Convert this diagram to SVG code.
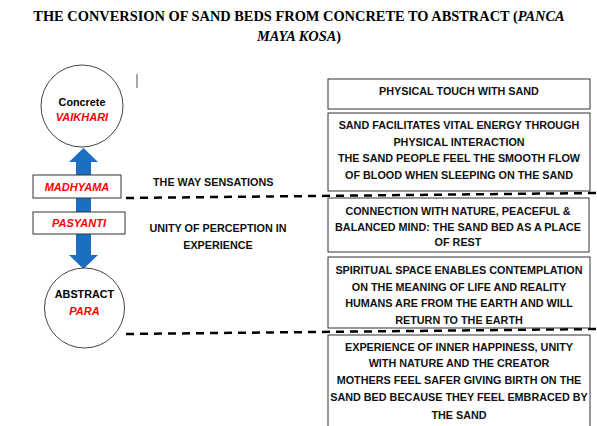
<svg xmlns="http://www.w3.org/2000/svg" width="597" height="426" viewBox="0 0 597 426">
<style>
.title{font-family:"Liberation Serif","Times New Roman",serif;font-weight:bold;font-size:14.4px;fill:#000}
.b{font-family:"Liberation Sans",Arial,sans-serif;font-weight:bold;font-size:10.8px;fill:#111}
.red{font-family:"Liberation Sans",Arial,sans-serif;font-weight:bold;font-style:italic;font-size:11px;fill:#ff0000}
.box{fill:#fff;stroke:#333;stroke-width:1}
.circ{fill:#fff;stroke:#444;stroke-width:1}
.dash{fill:none;stroke:#000;stroke-width:2.5;stroke-dasharray:8 6}
</style>
<rect width="597" height="426" fill="#fff"/>
<g id="title">
<text class="title" x="299" y="21" text-anchor="middle">THE CONVERSION OF SAND BEDS FROM CONCRETE TO ABSTRACT (<tspan font-style="italic">PANCA</tspan></text>
<text class="title" x="299" y="41" text-anchor="middle"><tspan font-style="italic">MAYA KOSA</tspan>)</text>
</g>
<line x1="137" y1="74" x2="137" y2="88" stroke="#555" stroke-width="1"/>
<g id="connectors">
<path d="M83.5 148 L98 162 L91 162 L91 255 L98 255 L83.5 269 L69 255 L76 255 L76 162 L69 162 Z" fill="#1b6ec2"/>
<line class="dash" x1="126" y1="198" x2="597" y2="193"/>
<line class="dash" x1="126" y1="334" x2="597" y2="329"/>
</g>
<g id="concrete">
<circle class="circ" cx="82" cy="106" r="41"/>
<text class="b" x="82" y="106" text-anchor="middle" style="fill:#000">Concrete</text>
<text class="red" x="82" y="121" text-anchor="middle" font-size="10.5">VAIKHARI</text>
</g>
<g id="madhyama">
<rect class="box" x="33" y="175" width="88" height="23"/>
<text class="red" x="77" y="191" text-anchor="middle">MADHYAMA</text>
</g>
<g id="pasyanti">
<rect class="box" x="33" y="212" width="92" height="22"/>
<text class="red" x="79" y="227" text-anchor="middle">PASYANTI</text>
</g>
<g id="abstract">
<circle class="circ" cx="84.5" cy="308" r="40"/>
<text class="b" x="84.5" y="298" text-anchor="middle" style="fill:#000">ABSTRACT</text>
<text class="red" x="84.5" y="315" text-anchor="middle">PARA</text>
</g>
<g id="label-sensations">
<text class="b" x="153" y="186">THE WAY SENSATIONS</text>
</g>
<g id="label-unity">
<text class="b" x="218" y="232" text-anchor="middle">UNITY OF PERCEPTION IN</text>
<text class="b" x="218" y="249" text-anchor="middle">EXPERIENCE</text>
</g>
<g id="box1">
<rect class="box" x="328" y="79" width="262" height="30"/>
<text class="b" x="459" y="95" text-anchor="middle">PHYSICAL TOUCH WITH SAND</text>
</g>
<g id="box2">
<rect class="box" x="328" y="113" width="262" height="78"/>
<text class="b" x="459" y="129" text-anchor="middle">SAND FACILITATES VITAL ENERGY THROUGH</text>
<text class="b" x="459" y="146" text-anchor="middle">PHYSICAL INTERACTION</text>
<text class="b" x="459" y="162" text-anchor="middle">THE SAND PEOPLE FEEL THE SMOOTH FLOW</text>
<text class="b" x="459" y="179" text-anchor="middle">OF BLOOD WHEN SLEEPING ON THE SAND</text>
</g>
<g id="box3">
<rect class="box" x="328" y="198" width="261" height="54"/>
<text class="b" x="458" y="215" text-anchor="middle">CONNECTION WITH NATURE, PEACEFUL &amp;</text>
<text class="b" x="458" y="231" text-anchor="middle">BALANCED MIND: THE SAND BED AS A PLACE</text>
<text class="b" x="458" y="246" text-anchor="middle">OF REST</text>
</g>
<g id="box4">
<rect class="box" x="328" y="257" width="262" height="71"/>
<text class="b" x="459" y="274" text-anchor="middle">SPIRITUAL SPACE ENABLES CONTEMPLATION</text>
<text class="b" x="459" y="291" text-anchor="middle">ON THE MEANING OF LIFE AND REALITY</text>
<text class="b" x="459" y="307" text-anchor="middle">HUMANS ARE FROM THE EARTH AND WILL</text>
<text class="b" x="459" y="324" text-anchor="middle">RETURN TO THE EARTH</text>
</g>
<g id="box5">
<rect class="box" x="328" y="335" width="262" height="100"/>
<text class="b" x="459" y="351" text-anchor="middle">EXPERIENCE OF INNER HAPPINESS, UNITY</text>
<text class="b" x="459" y="367" text-anchor="middle">WITH NATURE AND THE CREATOR</text>
<text class="b" x="459" y="384" text-anchor="middle">MOTHERS FEEL SAFER GIVING BIRTH ON THE</text>
<text class="b" x="459" y="401" text-anchor="middle">SAND BED BECAUSE THEY FEEL EMBRACED BY</text>
<text class="b" x="459" y="419" text-anchor="middle">THE SAND</text>
</g>
</svg>
